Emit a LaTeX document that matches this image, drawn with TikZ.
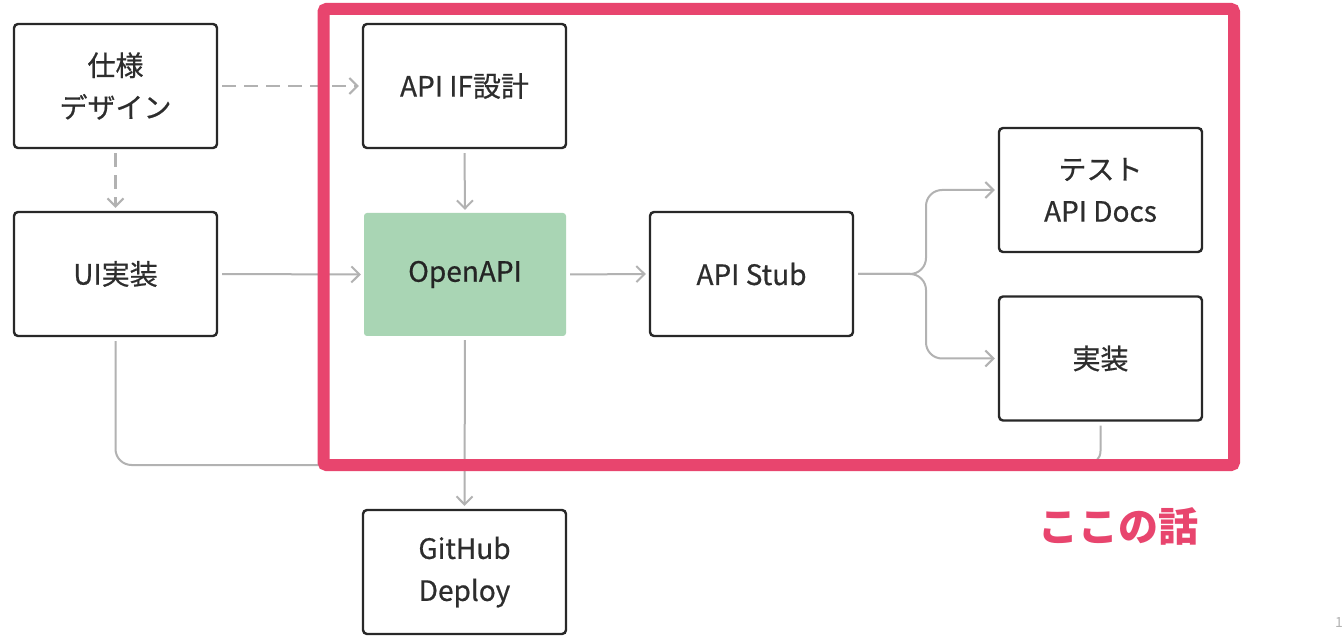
\documentclass[tikz,border=0pt]{standalone}
\usepackage{fontspec}
\setmainfont{Noto Sans CJK JP}
\newfontfamily\boxfont[FakeBold=0.6]{Noto Sans CJK JP}
\usetikzlibrary{arrows.meta}
\definecolor{framepink}{RGB}{232,69,110}
\definecolor{linegray}{RGB}{178,178,178}
\definecolor{boxline}{RGB}{40,40,40}
\definecolor{txtgray}{RGB}{45,45,45}
\definecolor{apigreen}{RGB}{169,213,180}
\begin{document}
\begin{tikzpicture}[x=1pt,y=-1pt,
  box/.style={draw=boxline, line width=2.4pt, rounded corners=4pt, minimum width=203pt, minimum height=124pt,
    align=center, font=\boxfont\fontsize{28}{42}\selectfont, text=txtgray, inner sep=0pt},
  greenbox/.style={fill=apigreen, rounded corners=3pt, minimum width=202pt, minimum height=123pt,
    align=center, font=\boxfont\fontsize{28}{42}\selectfont, text=txtgray!80!black, inner sep=0pt},
  conn/.style={draw=linegray, line width=2pt, -{Straight Barb[length=8pt,width=16pt,line width=2pt]}, shorten <=4pt, shorten >=3pt},
  plain/.style={draw=linegray, line width=2pt, shorten <=4pt},
  dconn/.style={conn, line width=2.4pt, dash pattern=on 14pt off 8pt}]
\fill[white] (0,0) rectangle (1342,636);
\useasboundingbox (0,0) rectangle (1342,636);

\node[box] (spec) at (115.5,86) {仕様\\デザイン};
\node[box] (ui) at (115.5,274) {UI実装};
\node[box] (apiif) at (464.5,86) {API IF設計};
\node[greenbox] (openapi) at (465,274.5) {OpenAPI};
\node[box] (stub) at (751.5,274) {API Stub};
\node[box] (docs) at (1100.5,190) {テスト\\API Docs};
\node[box] (impl) at (1100.5,358.5) {実装};
\node[box] (github) at (464.5,572) {GitHub\\Deploy};

\draw[dconn] (spec.east) -- (apiif.west);
\draw[dconn] (spec.south) -- (ui.north);
\draw[conn] (ui.east) -- (openapi.west);
\draw[conn] (apiif.south) -- (openapi.north);
\draw[conn] (openapi.east) -- (stub.west);
\coordinate (fork) at (926,274);
\draw[conn, rounded corners=16pt] (stub.east) -- (fork) |- (docs.west);
\draw[conn, rounded corners=16pt] (stub.east) -- (fork) |- (impl.west);
\coordinate (join) at (465,465);
\draw[plain, rounded corners=16pt] (ui.south) |- (join);
\draw[plain, rounded corners=14pt] (impl.south) |- (join);
\draw[conn] (openapi.south) -- (github.north);

\draw[framepink, line width=12pt, rounded corners=3pt] (323.5,9) rectangle (1234,465);

\node[text=framepink, font=\fontsize{40}{40}\selectfont\bfseries] (label) at (1118,526) {ここの話};
\node[text=linegray, font=\fontsize{14}{14}\selectfont] (pagenum) at (1339,623) {1};
\end{tikzpicture}
\end{document}
